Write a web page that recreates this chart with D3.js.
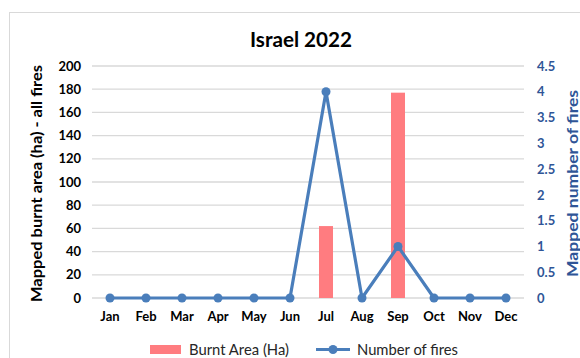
<!DOCTYPE html>
<html><head><meta charset="utf-8">
<script src="https://cdn.jsdelivr.net/npm/d3@7"></script>
<style>body{margin:0;background:#fff}svg{display:block;font-family:Lato,"Open Sans",sans-serif}</style>
</head><body><svg id="c" width="580" height="358"></svg>
<script>
const months = ["Jan","Feb","Mar","Apr","May","Jun","Jul","Aug","Sep","Oct","Nov","Dec"];
const burntArea = [0,0,0,0,0,0,62,0,177,0,0,0];
const numFires = [0,0,0,0,0,0,4,0,1,0,0,0];
const leftTicks = [0,20,40,60,80,100,120,140,160,180,200];
const rightTicks = [0,0.5,1,1.5,2,2.5,3,3.5,4,4.5];

const svg = d3.select("#c");
const L = 92, R = 524, T = 66, B = 298;
svg.append("rect").attr("x",9.5).attr("y",12.5).attr("width",580).attr("height",350)
  .attr("fill","#fff").attr("stroke","#d9d9d9");

const x = d3.scaleBand().domain(months).range([L,R]);
const yL = d3.scaleLinear().domain([0,200]).range([B,T]);
const yR = d3.scaleLinear().domain([0,4.5]).range([B,T]);

svg.append("g").selectAll("line").data(leftTicks).join("line")
  .attr("x1",L).attr("x2",R).attr("y1",d=>yL(d)).attr("y2",d=>yL(d))
  .attr("stroke","#d9d9d9").attr("stroke-width",1.3);

const la = svg.append("g").attr("transform",`translate(${L},0)`)
  .call(d3.axisLeft(yL).tickValues(leftTicks).tickSize(0).tickPadding(11));
la.select(".domain").remove();
la.selectAll("text").attr("font-size",13).attr("font-weight","bold").attr("fill","#000").attr("font-family","Lato");

const ra = svg.append("g").attr("transform",`translate(${R},0)`)
  .call(d3.axisRight(yR).tickValues(rightTicks).tickSize(0).tickPadding(13).tickFormat(d3.format("")));
ra.select(".domain").remove();
ra.selectAll("text").attr("font-size",13).attr("font-weight","bold").attr("fill","#2F5597").attr("font-family","Lato");

const xa = svg.append("g").attr("transform",`translate(0,${B})`)
  .call(d3.axisBottom(x).tickSize(0).tickPadding(14));
xa.select(".domain").remove();
xa.selectAll("text").attr("font-size",13).attr("font-weight","bold").attr("fill","#000").attr("font-family","Lato");

const bw = 14;
svg.append("g").selectAll("rect").data(months).join("rect")
  .attr("x",(d)=>x(d)+x.bandwidth()/2-bw/2).attr("width",bw)
  .attr("y",(d,i)=>yL(burntArea[i])).attr("height",(d,i)=>B-yL(burntArea[i]))
  .attr("fill","#FF7C80");

const line = d3.line().x((d,i)=>x(months[i])+x.bandwidth()/2).y(d=>yR(d));
svg.append("path").datum(numFires).attr("d",line).attr("fill","none")
  .attr("stroke","#4A7EBB").attr("stroke-width",3.2).attr("stroke-linejoin","round");
svg.append("g").selectAll("circle").data(numFires).join("circle")
  .attr("cx",(d,i)=>x(months[i])+x.bandwidth()/2).attr("cy",d=>yR(d)).attr("r",4.5)
  .attr("fill","#4A7EBB");

svg.append("text").attr("x",301).attr("y",47).attr("text-anchor","middle")
  .attr("font-size",20).attr("font-weight","bold").attr("fill","#000")
  .attr("textLength",102).attr("lengthAdjust","spacingAndGlyphs").text("Israel 2022");

svg.append("text").attr("transform","translate(42,183.5) rotate(-90)").attr("text-anchor","middle")
  .attr("font-size",15.5).attr("font-weight","bold").attr("fill","#000")
  .attr("textLength",237).attr("lengthAdjust","spacingAndGlyphs").text("Mapped burnt area (ha) - all fires");
svg.append("text").attr("transform","translate(578,183.5) rotate(-90)").attr("text-anchor","middle")
  .attr("font-size",15.5).attr("font-weight","bold").attr("fill","#2F5597")
  .attr("textLength",187).attr("lengthAdjust","spacingAndGlyphs").text("Mapped number of fires");

const lg = svg.append("g");
lg.append("rect").attr("x",150).attr("y",345).attr("width",31).attr("height",9).attr("fill","#FF7C80");
lg.append("text").attr("x",189).attr("y",354.5).attr("font-size",15).attr("fill","#262626")
  .attr("textLength",100).attr("lengthAdjust","spacingAndGlyphs").text("Burnt Area (Ha)");
lg.append("line").attr("x1",316).attr("x2",350).attr("y1",349.5).attr("y2",349.5).attr("stroke","#4A7EBB").attr("stroke-width",3.2);
lg.append("circle").attr("cx",333).attr("cy",349.5).attr("r",4.5).attr("fill","#4A7EBB");
lg.append("text").attr("x",357).attr("y",354.5).attr("font-size",15).attr("fill","#262626")
  .attr("textLength",101).attr("lengthAdjust","spacingAndGlyphs").text("Number of fires");
</script></body></html>
